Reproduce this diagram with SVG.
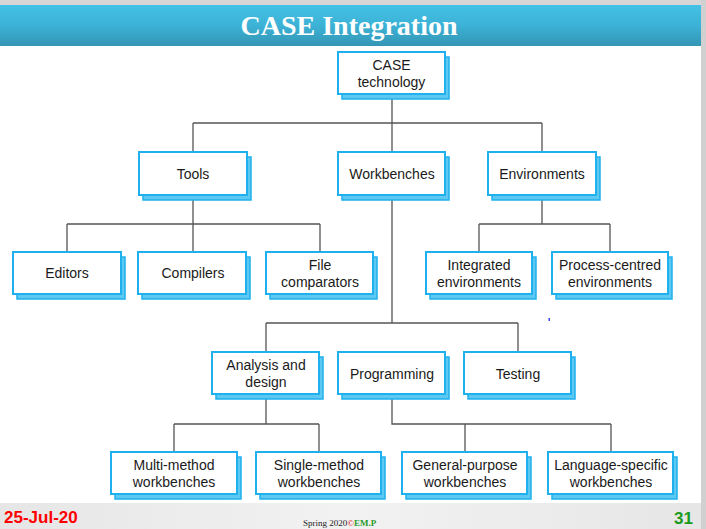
<svg xmlns="http://www.w3.org/2000/svg" width="706" height="529" viewBox="0 0 706 529">
<defs>
<linearGradient id="hdr" x1="0" y1="0" x2="0" y2="1">
<stop offset="0" stop-color="#43c1e6"/>
<stop offset="0.5" stop-color="#3cb2d6"/>
<stop offset="1" stop-color="#3496b4"/>
</linearGradient>
<linearGradient id="ftr" x1="0" y1="0" x2="1" y2="0">
<stop offset="0" stop-color="#e6e6e6"/>
<stop offset="0.5" stop-color="#f2f2f2"/>
<stop offset="1" stop-color="#e6e6e6"/>
</linearGradient>
<style>
.sh{fill:#5dc9f3;stroke:#1fb1ee;stroke-width:1.5}
.bx{fill:#fff;stroke:#1fb1ee;stroke-width:2}
.t{font-family:"Liberation Sans",Arial,sans-serif;font-size:14px;fill:#1a1a1a;text-anchor:middle}
.ln{stroke:#555;stroke-width:1.3;fill:none}
</style>
</defs>
<rect x="0" y="0" width="706" height="529" fill="#fff"/>
<rect x="0" y="0" width="706" height="5" fill="#d6d6d6"/>
<rect x="701" y="0" width="5" height="529" fill="#d0d0d0"/>
<rect x="0" y="5" width="701" height="41" fill="url(#hdr)"/>
<text x="349" y="35" font-family="Liberation Serif,Times New Roman,serif" font-weight="bold" font-size="28" fill="#fff" text-anchor="middle">CASE Integration</text>
<rect x="0" y="503" width="701" height="26" fill="url(#ftr)"/>
<text x="4" y="523" font-family="Liberation Sans Narrow,Liberation Sans,Arial,sans-serif" font-weight="bold" font-size="17" fill="#ff0000">25-Jul-20</text>
<text x="693" y="524" font-family="Liberation Sans Narrow,Liberation Sans,Arial,sans-serif" font-weight="bold" font-size="17" fill="#1a9a1a" text-anchor="end">31</text>
<text x="303" y="526" font-family="Liberation Serif,serif" font-size="9" fill="#222">Spring 2020<tspan fill="#d00">©</tspan><tspan fill="#2a9a2a" font-weight="bold">EM.P</tspan></text>
<rect x="548.5" y="318" width="1.5" height="3" fill="#3344ff"/>

<g id="connectors">
<path class="ln" d="M392 94V123M193 123H542M193 123V152M392 123V152M542 123V152"/>
<path class="ln" d="M193 195V224M67 224H320M67 224V252M193 224V252M320 224V252"/>
<path class="ln" d="M542 195V224M479 224H610M479 224V252M610 224V252"/>
<path class="ln" d="M392 195V323M266 323H518M266 323V352M518 323V352"/>
<path class="ln" d="M266 394V424M174 424H319M174 424V452M319 424V452"/>
<path class="ln" d="M392 394V424H611M465 424V452M611 424V452"/>
</g>

<g id="case"><rect class="sh" x="342" y="57" width="107" height="42"/><rect class="bx" x="338" y="52" width="107" height="42"/><text class="t" x="391.5" y="70">CASE</text><text class="t" x="391.5" y="86.5">technology</text></g>
<g id="tools"><rect class="sh" x="143" y="157" width="108" height="43"/><rect class="bx" x="139" y="152" width="108" height="43"/><text class="t" x="193" y="178.5">Tools</text></g>
<g id="workbenches"><rect class="sh" x="342" y="157" width="107" height="43"/><rect class="bx" x="338" y="152" width="107" height="43"/><text class="t" x="392" y="178.5">Workbenches</text></g>
<g id="environments"><rect class="sh" x="492" y="157" width="108" height="43"/><rect class="bx" x="488" y="152" width="108" height="43"/><text class="t" x="542" y="178.5">Environments</text></g>

<g id="editors"><rect class="sh" x="17" y="257" width="108" height="42"/><rect class="bx" x="13" y="252" width="108" height="42"/><text class="t" x="67" y="277.5">Editors</text></g>
<g id="compilers"><rect class="sh" x="142" y="257" width="108" height="42"/><rect class="bx" x="138" y="252" width="108" height="42"/><text class="t" x="193" y="277.5">Compilers</text></g>
<g id="filecomp"><rect class="sh" x="270" y="257" width="107" height="42"/><rect class="bx" x="266" y="252" width="107" height="42"/><text class="t" x="320" y="270">File</text><text class="t" x="320" y="286.5">comparators</text></g>
<g id="integrated"><rect class="sh" x="430" y="257" width="106" height="42"/><rect class="bx" x="426" y="252" width="106" height="42"/><text class="t" x="479" y="270">Integrated</text><text class="t" x="479" y="286.5">environments</text></g>
<g id="process"><rect class="sh" x="556" y="257" width="116" height="42"/><rect class="bx" x="552" y="252" width="116" height="42"/><text class="t" x="610" y="270">Process-centred</text><text class="t" x="610" y="286.5">environments</text></g>

<g id="analysis"><rect class="sh" x="216" y="357" width="107" height="42"/><rect class="bx" x="212" y="352" width="107" height="42"/><text class="t" x="266" y="370">Analysis and</text><text class="t" x="266" y="386.5">design</text></g>
<g id="programming"><rect class="sh" x="342" y="357" width="107" height="42"/><rect class="bx" x="338" y="352" width="107" height="42"/><text class="t" x="392" y="378.5">Programming</text></g>
<g id="testing"><rect class="sh" x="468" y="357" width="107" height="42"/><rect class="bx" x="464" y="352" width="107" height="42"/><text class="t" x="518" y="378.5">Testing</text></g>

<g id="multi"><rect class="sh" x="115" y="457" width="126" height="42"/><rect class="bx" x="111" y="452" width="126" height="42"/><text class="t" x="174" y="470">Multi-method</text><text class="t" x="174" y="486.5">workbenches</text></g>
<g id="single"><rect class="sh" x="260" y="457" width="125" height="42"/><rect class="bx" x="256" y="452" width="125" height="42"/><text class="t" x="319" y="470">Single-method</text><text class="t" x="319" y="486.5">workbenches</text></g>
<g id="general"><rect class="sh" x="406" y="457" width="125" height="42"/><rect class="bx" x="402" y="452" width="125" height="42"/><text class="t" x="465" y="470">General-purpose</text><text class="t" x="465" y="486.5">workbenches</text></g>
<g id="language"><rect class="sh" x="552" y="457" width="125" height="42"/><rect class="bx" x="548" y="452" width="125" height="42"/><text class="t" x="611" y="470">Language-specific</text><text class="t" x="611" y="486.5">workbenches</text></g>
</svg>
